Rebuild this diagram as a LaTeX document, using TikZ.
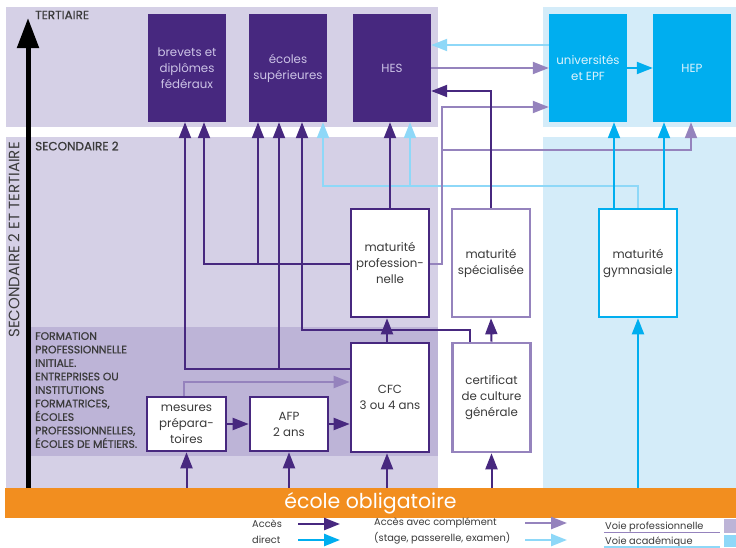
\documentclass[tikz,border=0pt]{standalone}
\usepackage{fontspec}
\setmainfont{Poppins}
\usetikzlibrary{arrows.meta,calc}
\definecolor{lav}{HTML}{D5D0E6}
\definecolor{lavdark}{HTML}{BDB4D7}
\definecolor{skybg}{HTML}{D4ECF9}
\definecolor{dpurple}{HTML}{47287F}
\definecolor{lpurple}{HTML}{9583BD}
\definecolor{cyanc}{HTML}{00AEEF}
\definecolor{lblue}{HTML}{8ED8F8}
\definecolor{orangec}{HTML}{F28E1F}
\definecolor{txt}{HTML}{3A3A3A}
\definecolor{dtxt}{HTML}{CCC3E6}
\definecolor{ctxt}{HTML}{DDF3FC}
\tikzset{
  tip/.style={-{Triangle[length=16pt,width=12pt]}},
  dpa/.style={draw=dpurple, line width=2pt, tip},
  lpa/.style={draw=lpurple, line width=2pt, tip},
  cya/.style={draw=cyanc, line width=2pt, tip},
  lba/.style={draw=lblue, line width=2pt, tip},
  boxbase/.style={rectangle, minimum width=78pt, minimum height=108pt, inner sep=0pt, align=center, font=\fontsize{11.8}{16}\selectfont},
  darkbox/.style={boxbase, fill=dpurple, text=dtxt},
  cybox/.style={boxbase, fill=cyanc, text=ctxt},
  wbox/.style={boxbase, fill=white, text=txt, line width=2.6pt},
  head/.style={inner sep=0pt, text=txt, font=\fontsize{12}{14}\selectfont\addfontfeature{FakeBold=0.8}},
  formtxt/.style={inner sep=0pt, text=txt, align=left, font=\fontsize{10.8}{13.5}\selectfont\addfontfeature{FakeBold=0.8}},
  leg/.style={inner sep=0pt, text=txt, align=left, font=\fontsize{9.8}{16}\selectfont},
}
\begin{document}
\begin{tikzpicture}[x=1pt,y=-1pt]
\useasboundingbox (0,0) rectangle (736,547);
\fill[white] (0,0) rectangle (736,547);
% backgrounds
\fill[lav] (6,7) rectangle (438,127);
\fill[lav] (6,137) rectangle (438,488);
\fill[lavdark] (30,327) rectangle (438,456);
\fill[skybg] (543,7) rectangle (736,127);
\fill[skybg] (543,137) rectangle (736,488);
% orange band
\node[rectangle, fill=orangec, minimum width=731pt, minimum height=30pt, inner sep=0pt, text=white, font=\fontsize{20.5}{22}\selectfont] (ecole) at (370.5,503) {école obligatoire};
% axis arrow
\coordinate (axb) at (28,488);
\coordinate (axt) at (28,18);
\draw[line width=5pt, -{Triangle[length=30pt,width=21pt]}] (axb) -- (axt);
% headings
\node[head, anchor=west] (tert) at (35,15) {TERTIAIRE};
\node[head, anchor=west] (sec) at (35,146) {SECONDAIRE 2};
\node[head, rotate=90, font=\fontsize{15}{16}\selectfont] (sec2) at (14,240) {SECONDAIRE 2 ET TERTIAIRE};
\node[formtxt, anchor=north west] (form) at (35,332) {FORMATION\\PROFESSIONNELLE\\INITIALE.\\ENTREPRISES OU\\INSTITUTIONS\\FORMATRICES,\\ÉCOLES\\PROFESSIONNELLES,\\ÉCOLES DE MÉTIERS.};
% tertiary boxes
\node[darkbox] (brevets) at (187,68) {brevets et\\diplômes\\fédéraux};
\node[darkbox] (ecoles) at (288,68) {écoles\\supérieures};
\node[darkbox] (hes) at (392,68) {HES};
\node[cybox] (univ) at (588,68) {universités\\et EPF};
\node[cybox] (hep) at (692,68) {HEP};
% secondary boxes
\node[wbox, draw=dpurple] (matpro) at (390,263) {maturité\\profession-\\nelle};
\node[wbox, draw=lpurple] (matspec) at (491,263) {maturité\\spécialisée};
\node[wbox, draw=cyanc] (matgym) at (638,263) {maturité\\gymnasiale};
\node[wbox, draw=dpurple, minimum height=109pt] (cfc) at (390,397.5) {CFC\\3 ou 4 ans};
\node[wbox, draw=lpurple, minimum height=109pt] (ccg) at (491.5,397.5) {certificat\\de culture\\générale};
\node[wbox, draw=dpurple, minimum height=54pt] (afp) at (289,424) {AFP\\2 ans};
\node[wbox, draw=dpurple, minimum height=54pt, minimum width=79pt] (mesures) at (186.5,424) {mesures\\prépara-\\toires};
% light connectors first
\draw[lba] (matgym.north) -- ++(0,-22) -| ([xshift=35pt]ecoles.south);
\draw[lba] (matgym.north) -- ++(0,-22) -| ([xshift=18pt]hes.south);
\draw[lba] ([yshift=23pt]univ.west) -- ([yshift=23pt]hes.east);
\draw[lpa] ([yshift=-1pt]matpro.east) -- ++(12,0) |- ([yshift=-39pt]univ.west);
\draw[lpa] ([yshift=-1pt]matpro.east) -- ++(12,0) -- ++(0,-114) -| ([xshift=-1pt]hep.south);
\draw[lpa] (hes.east) -- (univ.west);
\draw[lpa] ([xshift=-2.5pt]mesures.north) |- ([yshift=15.5pt]cfc.west);
% dark connectors
\draw[dpa] (ecole.north -| mesures.south) -- (mesures.south);
\draw[dpa] (ecole.north -| afp.south) -- (afp.south);
\draw[dpa] ($(ecole.north -| cfc.south)+(-3,0)$) -- ([xshift=-3pt]cfc.south);
\draw[dpa] (ecole.north -| ccg.south) -- (ccg.south);
\draw[cya] (ecole.north -| matgym.south) -- (matgym.south);
\draw[dpa] (mesures.east) -- (afp.west);
\draw[dpa] (afp.east) -- (afp.east -| cfc.west);
\draw[dpa] ([xshift=-3pt]cfc.north) -- ([xshift=-3pt]matpro.south);
\draw[dpa] (ccg.north) -- (matspec.south);
\draw[dpa] ([yshift=28.5pt]cfc.west) -| ([xshift=-2pt]brevets.south);
\draw[dpa] ([yshift=28.5pt]cfc.west) -| ([xshift=-9pt]ecoles.south);
\draw[dpa] ([yshift=-1pt]matpro.west) -| ([xshift=17pt]brevets.south);
\draw[dpa] ([yshift=-1pt]matpro.west) -| ([xshift=-30pt]ecoles.south);
\draw[dpa] ([xshift=-21.5pt]ccg.north) -- ++(0,-12) -| ([xshift=14pt]ecoles.south);
\draw[dpa] (matpro.north) -- (matpro.north |- hes.south);
\draw[dpa] (matspec.north) |- ([yshift=-23pt]hes.east);
\draw[cya] ($(matgym.north)+(-24,0)$) -- ($(matgym.north |- univ.south)+(-24,0)$);
\draw[cya] ($(matgym.north)+(26,0)$) -- ($(matgym.north |- hep.south)+(26,0)$);
\draw[cya] (univ.east) -- (hep.west);
% legend
\node[leg, anchor=west] (acc) at (252,532) {Accès\\direct};
\coordinate (la1) at (298,524); \coordinate (lb1) at (340,524);
\coordinate (la2) at (298,540); \coordinate (lb2) at (340,540);
\draw[dpa, line width=2.5pt] (la1) -- (lb1);
\draw[cya, line width=2.5pt] (la2) -- (lb2);
\node[leg, anchor=west] (acc2) at (374,531) {Accès avec complément\\(stage, passerelle, examen)};
\coordinate (lc1) at (525,523); \coordinate (ld1) at (567,523);
\coordinate (lc2) at (525,540); \coordinate (ld2) at (567,540);
\draw[lpa, line width=2.5pt] (lc1) -- (ld1);
\draw[lba, line width=2.5pt] (lc2) -- (ld2);
\node[leg, anchor=base west] (vp) at (605,529.5) {Voie professionnelle};
\node[leg, anchor=base west] (va) at (605,544.5) {Voie académique};
\draw[lpurple, line width=1.2pt] (604,532.5) -- (720,532.5);
\draw[lblue, line width=1.2pt] (604,547) -- (720,547);
\fill[lavdark] (724,519) rectangle (736,533);
\fill[lblue] (724,535) rectangle (736,547);
\end{tikzpicture}
\end{document}
